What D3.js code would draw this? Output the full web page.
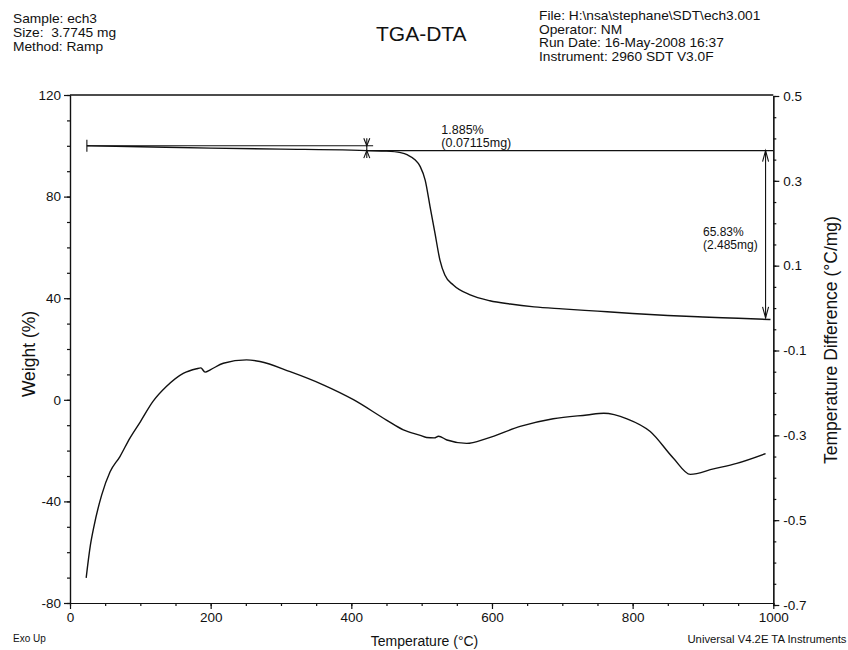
<!DOCTYPE html>
<html>
<head>
<meta charset="utf-8">
<script src="https://cdn.jsdelivr.net/npm/d3@7"></script>
<style>
body{margin:0;background:#fff}
text{font-family:"Liberation Sans",Arial,sans-serif;fill:#111;white-space:pre}
.axis path,.axis line{stroke:#111;stroke-width:1.2}
.axis text{font-size:13.5px;fill:#111;font-family:"Liberation Sans",Arial,sans-serif}
</style>
</head>
<body>
<svg id="chart" width="848" height="650"></svg>
<script>

// TGA curve, weight % on the left axis
var tgaTemp   = [24, 100, 200, 300, 400, 422, 450, 470, 480, 490, 498, 505, 512, 519, 526, 533, 545, 569, 597, 626, 660, 700, 750, 800, 850, 900, 950, 996]
var tgaWeight = [100, 99.6, 99.1, 98.7, 98.3, 98.1, 97.9, 97.3, 96.4, 94.6, 91.8, 86.5, 76.0, 65.5, 55.0, 49.1, 45.2, 41.3, 39.0, 37.7, 36.6, 35.8, 34.9, 34.0, 33.2, 32.6, 32.1, 31.6]

// DTA curve, temperature difference on the right axis
var dtaTemp = [23, 29, 34, 45, 57, 71, 85, 100, 118, 137, 161, 180, 186, 192, 200, 218, 251, 270, 313, 360, 403, 450, 474, 498, 507, 518, 524, 536, 564, 593, 640, 687, 735, 759, 792, 825, 858, 882, 915, 948, 989]
var dtaDiff = [-0.636, -0.559, -0.515, -0.441, -0.386, -0.350, -0.307, -0.268, -0.220, -0.185, -0.154, -0.143, -0.141, -0.151, -0.145, -0.130, -0.122, -0.126, -0.150, -0.181, -0.216, -0.264, -0.287, -0.300, -0.305, -0.306, -0.302, -0.311, -0.319, -0.307, -0.279, -0.261, -0.252, -0.248, -0.261, -0.291, -0.354, -0.392, -0.379, -0.366, -0.343]

var xTicks = [0, 200, 400, 600, 800, 1000]
var weightTicks = [120, 80, 40, 0, -40, -80]
var diffTicks = [0.5, 0.3, 0.1, -0.1, -0.3, -0.5, -0.7]

// step analysis: start temp, step temp, arrow temp / levels
var stepTemps = [24, 422, 989]
var stepLevels = [100, 98.115, 32.285]
var stepText1 = ["1.885%", "(0.07115mg)"]
var stepText2 = ["65.83%", "(2.485mg)"]

var headerLeft = ["Sample: ech3", "Size:  3.7745 mg", "Method: Ramp"]
var headerRight = ["File: H:\\nsa\\stephane\\SDT\\ech3.001", "Operator: NM", "Run Date: 16-May-2008 16:37", "Instrument: 2960 SDT V3.0F"]

var svg = d3.select("#chart")

var x = d3.scaleLinear().domain([0, 1000]).range([70, 773.3])
var yW = d3.scaleLinear().domain([-80, 120]).range([603, 95])
var yD = d3.scaleLinear().domain([-0.7, 0.5]).range([605, 96])

// plain hyphen minus like the instrument printout
var plain = d => String(d)
var oneDec = d => d.toFixed(1)

// axes, major + minor ticks
svg.append("g").attr("class", "axis").attr("transform", "translate(70,0)")
  .call(d3.axisLeft(yW).tickValues(d3.range(-80, 121, 10)).tickSize(3).tickSizeOuter(0).tickFormat(""))
svg.append("g").attr("class", "axis").attr("transform", "translate(70,0)")
  .call(d3.axisLeft(yW).tickValues(weightTicks).tickSize(6).tickPadding(3).tickSizeOuter(0).tickFormat(plain))

svg.append("g").attr("class", "axis").attr("transform", "translate(773.3,0)")
  .call(d3.axisRight(yD).tickValues(d3.range(-0.7, 0.5001, 0.05)).tickSize(3).tickSizeOuter(0).tickFormat(""))
svg.append("g").attr("class", "axis").attr("transform", "translate(773.3,0)")
  .call(d3.axisRight(yD).tickValues(diffTicks).tickSize(6).tickPadding(4).tickSizeOuter(0).tickFormat(oneDec))

svg.append("g").attr("class", "axis").attr("transform", "translate(0,603)")
  .call(d3.axisBottom(x).tickValues(d3.range(0, 1001, 50)).tickSize(3).tickSizeOuter(0).tickFormat(""))
svg.append("g").attr("class", "axis").attr("transform", "translate(0,603)")
  .call(d3.axisBottom(x).tickValues(xTicks).tickSize(6).tickPadding(3).tickSizeOuter(0).tickFormat(plain))

svg.selectAll(".axis .domain").attr("stroke-width", 1.3)

// top frame line
svg.append("line")
  .attr("x1", x(0)).attr("x2", x(1000)).attr("y1", yW(120)).attr("y2", yW(120))
  .attr("stroke", "#111").attr("stroke-width", 1.3)

// curves
var tgaLine = d3.line().x(d => x(d[0])).y(d => yW(d[1])).curve(d3.curveMonotoneX)
var dtaLine = d3.line().x(d => x(d[0])).y(d => yD(d[1])).curve(d3.curveMonotoneX)

svg.append("path")
  .datum(tgaTemp.map((t, i) => [t, tgaWeight[i]]))
  .attr("d", tgaLine).attr("fill", "none").attr("stroke", "#111").attr("stroke-width", 1.4)

svg.append("path")
  .datum(dtaTemp.map((t, i) => [t, dtaDiff[i]]))
  .attr("d", dtaLine).attr("fill", "none").attr("stroke", "#111").attr("stroke-width", 1.4)

// step annotation lines
var ann = svg.append("g").attr("stroke", "#111").attr("stroke-width", 1.1).attr("fill", "none")
var xs = x(stepTemps[0]), xm = x(stepTemps[1]), xa = x(stepTemps[2])
var y1 = yW(stepLevels[0]), y2 = yW(stepLevels[1]), y3 = yW(stepLevels[2])

ann.append("line").attr("x1", xs).attr("x2", xs).attr("y1", y1 - 6).attr("y2", y1 + 6)
ann.append("line").attr("x1", xs).attr("x2", x(431)).attr("y1", y1).attr("y2", y1)
ann.append("line").attr("x1", xm).attr("x2", x(1000)).attr("y1", y2).attr("y2", y2)

// X shaped step marker
ann.append("line").attr("x1", xm).attr("x2", xm).attr("y1", y1 - 7.5).attr("y2", y2 + 7.5)
ann.append("path").attr("d", `M${xm - 3},${y1 - 7.5}L${xm},${y1}L${xm + 3},${y1 - 7.5}`)
ann.append("path").attr("d", `M${xm - 3},${y2 + 7.5}L${xm},${y2}L${xm + 3},${y2 + 7.5}`)

// double arrow for main loss
ann.append("line").attr("x1", xa).attr("x2", xa).attr("y1", y2).attr("y2", y3)
ann.append("path").attr("d", `M${xa - 3},${y2 + 11}L${xa},${y2}L${xa + 3},${y2 + 11}`)
ann.append("path").attr("d", `M${xa - 3},${y3 - 11}L${xa},${y3}L${xa + 3},${y3 - 11}`)

svg.selectAll(null).data(stepText1).enter().append("text")
  .attr("x", x(528)).attr("y", (d, i) => y2 - 17 + i * 13.5)
  .attr("font-size", "12.5px").text(d => d)

svg.selectAll(null).data(stepText2).enter().append("text")
  .attr("x", x(900)).attr("y", (d, i) => yW(66) + 4 + i * 13)
  .attr("font-size", "12px").text(d => d)

// header
svg.selectAll(null).data(headerLeft).enter().append("text")
  .attr("transform", (d, i) => `translate(13,${22.5 + i * 14}) scale(1.1,1)`)
  .attr("font-size", "12.5px").text(d => d)

svg.selectAll(null).data(headerRight).enter().append("text")
  .attr("transform", (d, i) => `translate(539,${20 + i * 13.7}) scale(1.1,1)`)
  .attr("font-size", "12.5px").text(d => d)

svg.append("text").attr("x", 376).attr("y", 40.7).attr("font-size", "21px").text("TGA-DTA")

// axis titles
svg.append("text").attr("transform", "translate(35,354) rotate(-90)")
  .attr("text-anchor", "middle").attr("font-size", "17.5px").text("Weight (%)")
svg.append("text").attr("transform", "translate(837,340) rotate(-90)")
  .attr("text-anchor", "middle").attr("font-size", "17.5px").text("Temperature Difference (°C/mg)")
svg.append("text").attr("x", 424.5).attr("y", 646)
  .attr("text-anchor", "middle").attr("font-size", "14px").text("Temperature (°C)")

svg.append("text").attr("x", 13).attr("y", 642).attr("font-size", "10px").text("Exo Up")
svg.append("text").attr("x", 846.5).attr("y", 643).attr("text-anchor", "end")
  .attr("font-size", "11.3px").text("Universal V4.2E TA Instruments")

</script>
</body>
</html>
